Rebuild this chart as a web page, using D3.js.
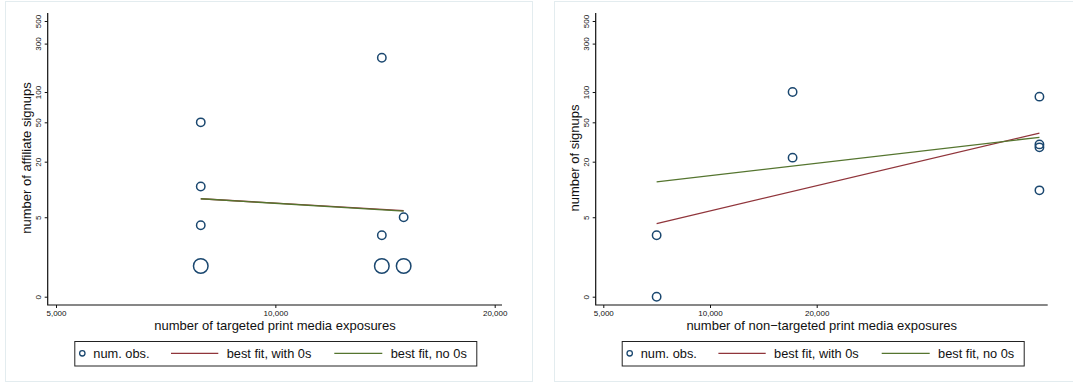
<!DOCTYPE html>
<html>
<head>
<meta charset="utf-8">
<script src="https://cdn.jsdelivr.net/npm/d3@7"></script>
<style>
  body { margin: 0; background: #fff; }
  svg { display: block; font-family: "Liberation Sans", Arial, Helvetica, sans-serif; }
  .tick text { font-size: 8px; fill: #111; }
  .tick line { stroke: #111; }
</style>
</head>
<body>
<div id="charts"></div>
<script>
// shared ticks
const yTicks = [0, 5, 20, 50, 100, 300, 500];
const xTicks = [5000, 10000, 20000];
const legendLabels = ["num. obs.", "best fit, with 0s", "best fit, no 0s"];

// left panel: targeted exposures
const targetedX = [7900, 7900, 7900, 7900, 14000, 14000, 14000, 15000, 15000];
const targetedY = [50, 11, 4, 1, 218, 3, 1, 5, 1];
const targetedN = [1, 1, 1, 3, 1, 1, 3, 1, 3];
const targetedFitWith0s = [[7900, 8.1], [15000, 5.95]];
const targetedFitNo0s = [[7900, 8.1], [15000, 5.9]];

// right panel: non-targeted exposures
const nonTargetedX = [7070, 7070, 17100, 17100, 85000, 85000, 85000, 85000];
const nonTargetedY = [3, 0, 100, 22, 90, 30, 28, 10];
const nonTargetedN = [1, 1, 1, 1, 1, 1, 1, 1];
const nonTargetedFitWith0s = [[7070, 4.2], [85000, 39]];
const nonTargetedFitNo0s = [[7070, 12.3], [85000, 35.4]];

const navy = "#1a476f", maroon = "#90353b", green = "#55752f";

const svg = d3.select("#charts").append("svg")
    .attr("width", 1073)
    .attr("height", 383);

function draw_panel(p) {
    let g = svg.append("g");

    g.append("rect")
        .attr("x", p.frame[0] + 0.5).attr("y", 1.5)
        .attr("width", p.frame[1] - p.frame[0]).attr("height", 380)
        .attr("fill", "#fff")
        .attr("stroke", "#e3ecef");

    let x = d3.scaleLog()
        .domain([5000, 20000])
        .range(p.xRange);
    let y = d3.scaleSymlog()
        .constant(1)
        .domain([0, 500])
        .range([296.7, 21]);
    let r = d3.scaleSqrt()
        .domain([0, 1])
        .range([0, 4.2]);

    // axes
    let xAxis = g.append("g")
        .attr("transform", "translate(0, 305)")
        .call(d3.axisBottom(x).tickValues(xTicks)
            .tickFormat(d3.format(",")).tickSize(3).tickPadding(2));
    xAxis.select(".domain").remove();

    let yAxis = g.append("g")
        .attr("transform", "translate(" + p.left + ", 0)")
        .call(d3.axisLeft(y).tickValues(yTicks)
            .tickFormat(d3.format("d")).tickSize(3));
    yAxis.select(".domain").remove();
    yAxis.selectAll(".tick text")
        .attr("transform", "rotate(-90)")
        .attr("x", 0)
        .attr("y", -7.2)
        .attr("dy", null)
        .attr("text-anchor", "middle");

    g.append("path")
        .attr("d", "M" + p.left + ",13V305H" + p.right)
        .attr("fill", "none")
        .attr("stroke", "#111")
        .attr("stroke-width", 1.2);

    // titles
    g.append("text")
        .attr("x", (p.xTitle))
        .attr("y", 329.5)
        .attr("text-anchor", "middle")
        .attr("font-size", 13)
        .attr("fill", "#111")
        .text(p.xLabel);
    g.append("text")
        .attr("transform", "translate(" + (p.left - 17.2) + ", 158) rotate(-90)")
        .attr("text-anchor", "middle")
        .attr("font-size", 13)
        .attr("fill", "#111")
        .text(p.yLabel);

    // fit lines
    let line = d3.line()
        .x(d => x(d[0]))
        .y(d => y(d[1]));
    g.append("path")
        .attr("d", line(p.fitWith0s))
        .attr("fill", "none")
        .attr("stroke", maroon)
        .attr("stroke-width", 1.3);
    g.append("path")
        .attr("d", line(p.fitNo0s))
        .attr("fill", "none")
        .attr("stroke", green)
        .attr("stroke-width", 1.3);

    // points
    g.selectAll(".pt")
        .data(p.xs.map((v, i) => [v, p.ys[i], p.ns[i]]))
        .enter()
        .append("circle")
        .attr("class", "pt")
        .attr("cx", d => x(d[0]))
        .attr("cy", d => y(d[1]))
        .attr("r", d => r(d[2]))
        .attr("fill", "none")
        .attr("stroke", navy)
        .attr("stroke-width", 1.5);

    // legend
    let L = p.legend;
    let leg = g.append("g");
    leg.append("rect")
        .attr("x", L.x + 0.5).attr("y", 341.5)
        .attr("width", 402).attr("height", 24.5)
        .attr("fill", "#fff")
        .attr("stroke", "#222");
    leg.append("circle")
        .attr("cx", L.x + 8).attr("cy", 353.3)
        .attr("r", 2.7)
        .attr("fill", "none")
        .attr("stroke", navy)
        .attr("stroke-width", 1.3);
    leg.append("line")
        .attr("x1", L.x + 96.7).attr("x2", L.x + 144)
        .attr("y1", 353.3).attr("y2", 353.3)
        .attr("stroke", maroon).attr("stroke-width", 1.3);
    leg.append("line")
        .attr("x1", L.x + 260).attr("x2", L.x + 308)
        .attr("y1", 353.3).attr("y2", 353.3)
        .attr("stroke", green).attr("stroke-width", 1.3);
    [19, 152.4, 316.4].forEach((dx, i) => {
        leg.append("text")
            .attr("x", L.x + dx)
            .attr("y", 358)
            .attr("font-size", 12.8)
            .attr("fill", "#111")
            .text(legendLabels[i]);
    });
}

draw_panel({
    frame: [5, 532],
    left: 47.7, right: 502,
    xRange: [56, 494.7],
    xTitle: 275,
    xLabel: "number of targeted print media exposures",
    yLabel: "number of affiliate signups",
    xs: targetedX, ys: targetedY, ns: targetedN,
    fitWith0s: targetedFitWith0s, fitNo0s: targetedFitNo0s,
    legend: {x: 74.3}
});

draw_panel({
    frame: [554, 1090],
    left: 595.7, right: 1047.7,
    xRange: [603.3, 816.7],
    xTitle: 821.7,
    xLabel: "number of non\u2212targeted print media exposures",
    yLabel: "number of signups",
    xs: nonTargetedX, ys: nonTargetedY, ns: nonTargetedN,
    fitWith0s: nonTargetedFitWith0s, fitNo0s: nonTargetedFitNo0s,
    legend: {x: 621.7}
});
</script>
</body>
</html>
